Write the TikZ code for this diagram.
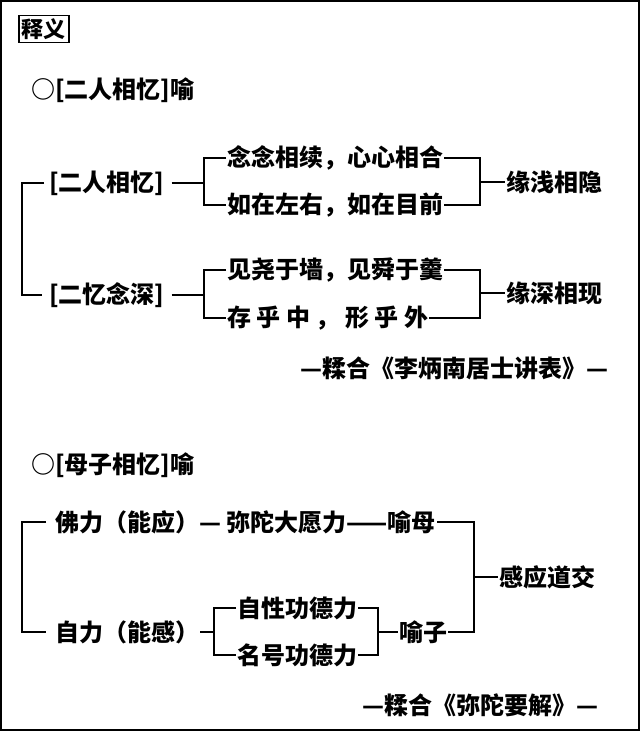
\documentclass[tikz,border=0pt]{standalone}
\usepackage{fontspec}
\newfontfamily\cjk{Noto Sans CJK SC}
\begin{document}
\begin{tikzpicture}[x=1pt,y=-1pt,
  t/.style={anchor=west,inner sep=1pt,font=\cjk\bfseries\fontsize{24}{28}\selectfont},
  ln/.style={line width=1.8pt}]
\useasboundingbox (0,0) rectangle (640,731);
\draw[line width=1.2pt] (1,1) rectangle (639,730);
\node[t,draw,line width=1.6pt,inner sep=3pt,font=\cjk\bfseries\fontsize{22}{26}\selectfont] (sy) at (18,29) {释义};
\node[t] (h1) at (30,90) {○[二人相忆]喻};
% block 1
\node[t] (a1) at (48,183) {[二人相忆]};
\node[t] (a2) at (48,295) {[二忆念深]};
\node[t] (b1) at (226,158) {念念相续，心心相合};
\node[t] (b2) at (226,205) {如在左右，如在目前};
\node[t] (b3) at (226,270) {见尧于墙，见舜于羹};
\node[t] (b4) at (226,318) {存\ 乎\ 中\ ，\ 形\ 乎\ 外};
\node[t] (c1) at (505,182) {缘浅相隐};
\node[t] (c2) at (505,293) {缘深相现};
\draw[ln] (a1.west)++(-4,0) -- (22,183) -- (22,295) -- ++(20,0);
\draw[ln] (a1.east)++(6,0) -- (204,183);
\draw[ln] (b1.west) -- (204,158) -- (204,205) -- (b2.west);
\draw[ln] (b1.east) -- (480,158) -- (480,205) -- (b2.east);
\draw[ln] (480,182) -- (c1.west);
\draw[ln] (a2.east)++(6,0) -- (204,295);
\draw[ln] (b3.west) -- (204,270) -- (204,318) -- (b4.west);
\draw[ln] (b3.east) -- (480,270) -- (480,318) -- (b4.east);
\draw[ln] (480,293) -- (c2.west);
\node[t,anchor=east] (s1) at (610,368) {—糅合《李炳南居士讲表》—};
% block 2
\node[t] (h2) at (30,465) {○[母子相忆]喻};
\node[t] (d1) at (54,522) {佛力（能应）—\ 弥陀大愿力——喻母};
\node[t] (d2) at (54,632) {自力（能感）};
\node[t] (e1) at (236,608) {自性功德力};
\node[t] (e2) at (236,655) {名号功德力};
\node[t] (f1) at (398,632) {喻子};
\node[t] (g1) at (498,577) {感应道交};
\draw[ln] (d1.west)++(-8,0) -- (22,522) -- (22,632) -- ++(24,0);
\draw[ln] (d2.east) -- (214,632);
\draw[ln] (e1.west) -- (214,608) -- (214,655) -- (e2.west);
\draw[ln] (e1.east) -- (378,608) -- (378,655) -- (e2.east);
\draw[ln] (378,632) -- (f1.west);
\draw[ln] (d1.east) -- (474,522) -- (474,632) -- (f1.east);
\draw[ln] (474,577) -- (g1.west);
\node[t,anchor=east] (s2) at (600,705) {—糅合《弥陀要解》—};
\end{tikzpicture}
\end{document}
